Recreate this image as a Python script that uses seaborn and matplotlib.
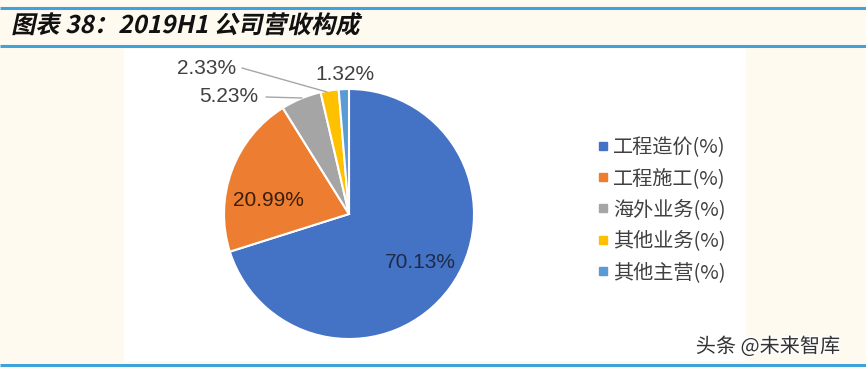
import matplotlib
matplotlib.use('Agg')
import matplotlib.pyplot as plt
import matplotlib.patheffects as pe
from matplotlib.transforms import Affine2D
from matplotlib.lines import Line2D
import seaborn as sns

# data
categories = ['工程造价(%)', '工程施工(%)', '海外业务(%)', '其他业务(%)', '其他主营(%)']
shares = [70.13, 20.99, 5.23, 2.33, 1.32]
slice_colors = ['#4472C4', '#ED7D31', '#A5A5A5', '#FFC000', '#5B9BD5']

title = '图表 38：2019H1 公司营收构成'
watermark = '头条 @未来智库'

sns.set_style('white')
plt.rcParams['font.family'] = ['Liberation Sans', 'Noto Sans CJK SC', 'DejaVu Sans']


class Skew(pe.AbstractPathEffect):
    """fake italic for fonts without an italic face"""
    def __init__(self, deg):
        super().__init__()
        self.deg = deg

    def draw_path(self, renderer, gc, tpath, affine, rgbFace=None):
        m = affine.get_matrix()
        tx, ty = m[0, 2], m[1, 2]
        skew = Affine2D().translate(-tx, -ty).skew_deg(self.deg, 0).translate(tx, ty)
        renderer.draw_path(gc, tpath, affine + skew, rgbFace)


W, H = 866, 368
fig = plt.figure(figsize=(W / 100, H / 100), dpi=100, facecolor='#FFFAF0')
# one axes over the whole figure, in pixel units (y up)
ax = fig.add_axes([0, 0, 1, 1])

palette = sns.color_palette(slice_colors)
wedges, _ = ax.pie(shares, colors=palette, startangle=90, counterclock=False,
                   center=(349, H - 214), radius=125,
                   wedgeprops=dict(edgecolor='white', linewidth=1.5))

ax.set_xlim(0, W)
ax.set_ylim(0, H)
ax.set_aspect('equal')
ax.axis('off')

# white chart panel behind the pie
ax.add_patch(plt.Rectangle((124, H - 361), 622, 315, facecolor='white',
                           edgecolor='none', zorder=-5))

# frame lines
for y, lw in [(8, 2.2), (45.5, 2.2), (365, 2.2)]:
    ax.plot([0, W], [H - y, H - y], color='#3FA3DA', lw=lw, zorder=-4,
            solid_capstyle='butt')

# percentage labels
label_pos = [(420, 262), (268, 200), (229, 97), (207, 68), (345, 75)]
label_col = ['#1E2A4A', '#3A1E0A', '#404040', '#404040', '#404040']
for v, (x, y), c in zip(shares, label_pos, label_col):
    ax.text(x, H - y, f'{v:.2f}%', ha='center', va='center', fontsize=15,
            color=c)

# leader lines for the small slices
ax.plot([266, 302], [H - 97, H - 98], color='#A6A6A6', lw=1)
ax.plot([242, 327], [H - 68, H - 92], color='#A6A6A6', lw=1)

# legend
handles = [Line2D([], [], marker='s', linestyle='none', markersize=5.5,
                  markerfacecolor=c, markeredgecolor=c) for c in palette]
leg = fig.legend(handles, categories, loc='center left',
                 bbox_to_anchor=(597 / W, 1 - 210 / H), frameon=False,
                 fontsize=14.5, labelspacing=0.5, handlelength=0.6,
                 handletextpad=0.2, borderaxespad=0, borderpad=0)
for t in leg.get_texts():
    t.set_color('#404040')
    t.set_family(['Noto Sans CJK SC', 'DejaVu Sans'])

# title
ax.text(11, H - 26, title, ha='left', va='center', fontsize=17.5,
        fontweight='bold', family=['Noto Sans CJK SC', 'DejaVu Sans'],
        color='#111111', path_effects=[Skew(12)])

# watermark
ax.text(840, H - 347, watermark, ha='right', va='center', fontsize=14.5,
        family=['Noto Sans CJK SC', 'DejaVu Sans'], color='#333333',
        path_effects=[pe.withStroke(linewidth=2, foreground='white')])

fig.savefig('out.png', dpi=100, facecolor=fig.get_facecolor())
